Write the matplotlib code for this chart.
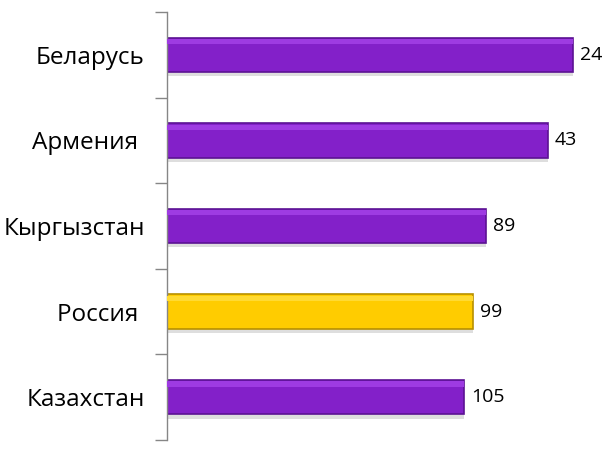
import matplotlib
matplotlib.use("Agg")
import matplotlib.pyplot as plt
import numpy as np

categories = ["Беларусь", "Армения ", "Кыргызстан", "Россия ", "Казахстан"]
ranks = [24, 43, 89, 99, 105]
bar_colors = ["#8320C9", "#8320C9", "#8320C9", "#FFCC00", "#8320C9"]
top_colors = ["#9E3BE2", "#9E3BE2", "#9E3BE2", "#FFDA33", "#9E3BE2"]
edge_colors = ["#5C1293", "#5C1293", "#5C1293", "#B89000", "#5C1293"]

plt.rcParams['font.family'] = ['Open Sans', 'DejaVu Sans']

fig = plt.figure(figsize=(6.09, 4.51), dpi=100)
ax = fig.add_axes([167/609, 11/451, 433/609, 428/451])

base = 326.0
px_per_unit = 1.346
y = np.arange(len(categories))
widths = [r - base for r in ranks]
h = 0.40

# shadow
ax.barh(y + 0.05, widths, left=base, height=h, color="#DEDEDE", zorder=1)
# main bar
ax.barh(y, widths, left=base, height=h, color=bar_colors, edgecolor=edge_colors,
        linewidth=1.2, zorder=2)
# top highlight
ax.barh(y - h/2 + 0.045, widths, left=base, height=0.06, color=top_colors, zorder=3)

ax.set_xlim(base, base - 433/px_per_unit)
ax.set_ylim(len(categories) - 0.5, -0.5)

for yi, r in zip(y, ranks):
    ax.text(r - 7/px_per_unit, yi, str(r), va="center", ha="left", fontsize=14, color="black")

ax.set_yticks(y)
ax.set_yticklabels(categories, fontsize=17.5)
ax.tick_params(axis="y", which="major", length=0, pad=16)
ax.set_yticks(np.arange(-0.5, len(categories)), minor=True)
ax.tick_params(axis="y", which="minor", length=9, color="#868686", width=1)
ax.set_xticks([])
for s in ["top", "right", "bottom"]:
    ax.spines[s].set_visible(False)
ax.spines["left"].set_color("#868686")
ax.spines["left"].set_linewidth(1)

fig.savefig("out.png", dpi=100)
